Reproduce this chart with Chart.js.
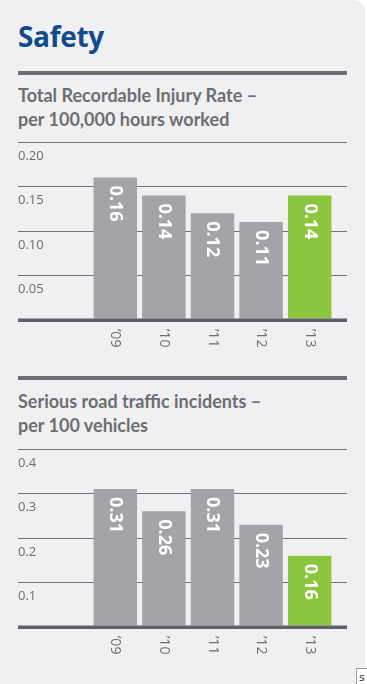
<!DOCTYPE html>
<html>
<head>
<meta charset="utf-8">
<script src="https://cdn.jsdelivr.net/npm/chart.js@4"></script>
<style>
  html, body { margin: 0; padding: 0; background: #ffffff; }
  body { width: 367px; height: 684px; position: relative; overflow: hidden; }
  #panel { position: absolute; left: 0; top: 0; width: 365px; height: 700px; background: #f0f0f2; border-top-right-radius: 12px; }
  h1 { position: absolute; left: 18px; top: 17px; margin: 0; font: bold 28px "Open Sans", sans-serif; color: #114b8c; letter-spacing: -0.3px; }
  .rule { position: absolute; left: 18px; width: 329px; height: 4px; background: #6e6e73; }
  h2 { position: absolute; left: 18px; margin: 0; font: bold 18px Lato, sans-serif; line-height: 24px; color: #6d6e71; }
  .wrap { position: absolute; left: 0; width: 365px; }
  #tag { position: absolute; left: 356px; top: 668px; width: 14px; height: 20px; background: #fff; border: 1px solid #999; font: 11px "DejaVu Sans", sans-serif; color: #333; padding-left: 2px; box-sizing: border-box; line-height: 18px; }
</style>
</head>
<body>
<div id="panel"></div>
<h1>Safety</h1>
<div class="rule" style="top:71px"></div>
<h2 style="top:83px">Total Recordable Injury Rate –<br>per 100,000 hours worked</h2>
<div class="wrap" style="top:130px;height:230px"><canvas id="c1"></canvas></div>
<div class="rule" style="top:376px"></div>
<h2 style="top:389px">Serious road traffic incidents –<br>per 100 vehicles</h2>
<div class="wrap" style="top:437px;height:230px"><canvas id="c2"></canvas></div>
<div id="tag">s</div>
<script>
// ---- data ----
const years = ['’09', '’10', '’11', '’12', '’13'];
const injuryRate = [0.16, 0.14, 0.12, 0.11, 0.14];
const roadIncidents = [0.31, 0.26, 0.31, 0.23, 0.16];
const injuryTicks = { max: 0.20, step: 0.05, decimals: 2 };
const roadTicks = { max: 0.4, step: 0.1, decimals: 1 };

const GRAY = '#a3a4a8';
const GREEN = '#8cc63f';
const GRID = '#737377';
const ZERO = '#5e6064';
const TEXT = '#6d6e71';

const barLabels = {
  id: 'barLabels',
  afterDatasetsDraw(chart) {
    const ctx = chart.ctx;
    const meta = chart.getDatasetMeta(0);
    const ys = chart.scales.y;
    const y2 = chart.scales.y2;
    const xs = chart.scales.x;
    const zeroY = ys.getPixelForValue(0);
    ctx.save();
    // zero line on top of bars
    ctx.strokeStyle = ZERO;
    ctx.lineWidth = 3;
    ctx.beginPath();
    ctx.moveTo(ys.left, zeroY);
    ctx.lineTo(y2.right, zeroY);
    ctx.stroke();
    // value labels inside bars
    ctx.fillStyle = '#ffffff';
    ctx.font = 'bold 18px "Open Sans", sans-serif';
    ctx.textAlign = 'left';
    ctx.textBaseline = 'middle';
    meta.data.forEach((bar, i) => {
      const v = chart.data.datasets[0].data[i];
      ctx.save();
      ctx.translate(bar.x, bar.y + 8);
      ctx.rotate(Math.PI / 2);
      ctx.fillText(v.toFixed(2), 0, 0);
      ctx.restore();
    });
    // category labels below axis
    ctx.fillStyle = TEXT;
    ctx.font = '14px "Open Sans", sans-serif';
    chart.data.labels.forEach((lab, i) => {
      ctx.save();
      ctx.translate(xs.getPixelForTick(i), zeroY + 9);
      ctx.rotate(Math.PI / 2);
      ctx.fillText(lab, 0, 0);
      ctx.restore();
    });
    ctx.restore();
  }
};

function makeChart(id, values, t) {
  const colors = values.map((v, i) => i === values.length - 1 ? GREEN : GRAY);
  const gridColor = c => (c.tick && c.tick.value === 0) ? ZERO : GRID;
  const gridWidth = c => (c.tick && c.tick.value === 0) ? 3 : 1;
  return new Chart(document.getElementById(id), {
    type: 'bar',
    data: {
      labels: years,
      datasets: [{ data: values, backgroundColor: colors, borderWidth: 0,
                   categoryPercentage: 1, barPercentage: 0.895 }]
    },
    options: {
      responsive: true,
      maintainAspectRatio: false,
      animation: false,
      layout: { padding: { left: 18, right: 18, top: 12, bottom: 0 } },
      plugins: { legend: { display: false }, tooltip: { enabled: false } },
      scales: {
        x: {
          grid: { display: false },
          border: { display: false },
          ticks: { display: false },
          afterFit: s => { s.height = 40; }
        },
        y: {
          min: 0, max: t.max,
          border: { display: false },
          grid: { color: gridColor, lineWidth: gridWidth, tickColor: gridColor, tickWidth: gridWidth, drawTicks: true, tickLength: 73 },
          ticks: {
            stepSize: t.step,
            crossAlign: 'far',
            labelOffset: 14,
            color: TEXT,
            font: { family: '"Open Sans", sans-serif', size: 13 },
            callback: v => v === 0 ? '' : Number(v).toFixed(t.decimals)
          },
          afterFit: s => { s.width = 73; }
        },
        y2: {
          position: 'right',
          min: 0, max: t.max,
          border: { display: false },
          grid: { drawOnChartArea: false, drawTicks: true, tickLength: 13, tickColor: gridColor, tickWidth: gridWidth },
          ticks: { display: false, stepSize: t.step },
          afterFit: s => { s.width = 13; }
        }
      }
    },
    plugins: [barLabels]
  });
}

makeChart('c1', injuryRate, injuryTicks);
makeChart('c2', roadIncidents, roadTicks);
</script>
</body>
</html>
